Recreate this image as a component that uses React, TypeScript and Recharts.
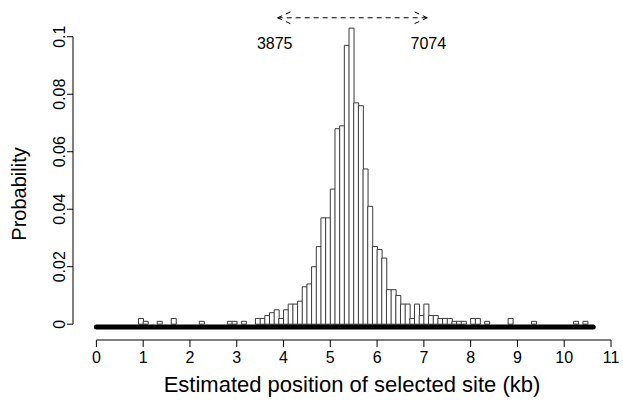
import { ComposedChart, Bar, XAxis, YAxis, ReferenceLine, ReferenceDot } from 'recharts';

// histogram of estimated selected-site position, 0.1 kb bins starting at 0
const BIN_WIDTH = 0.1;
const probabilities = [
  0, 0, 0, 0, 0, 0, 0, 0, 0, 0.002,
  0.001, 0, 0, 0.001, 0, 0, 0.002, 0, 0, 0,
  0, 0, 0.001, 0, 0, 0, 0, 0, 0.001, 0.001,
  0, 0.001, 0, 0, 0.002, 0.002, 0.003, 0.004, 0.005, 0.002,
  0.005, 0.007, 0.007, 0.008, 0.013, 0.014, 0.02, 0.027, 0.037, 0.037,
  0.047, 0.068, 0.069, 0.097, 0.103, 0.077, 0.076, 0.054, 0.041, 0.027,
  0.026, 0.023, 0.012, 0.012, 0.01, 0.007, 0.007, 0.002, 0.007, 0.003,
  0.007, 0.003, 0.003, 0.002, 0.002, 0.002, 0.001, 0.001, 0.001, 0,
  0.002, 0.002, 0, 0.001, 0, 0, 0, 0, 0.002, 0,
  0, 0, 0, 0.001, 0, 0, 0, 0, 0, 0,
  0, 0, 0.001, 0, 0.001, 0,
];

const xTicks = [0, 1, 2, 3, 4, 5, 6, 7, 8, 9, 10, 11];
const yTicks = [0, 0.02, 0.04, 0.06, 0.08, 0.1];
const interval = [3875, 7074]; // bp
const regionLength = 10.62; // kb

const FONT = '"Liberation Sans", Arial, Helvetica, sans-serif';
const Y_ARROW = 0.1066;
const Y_RUG = -0.00094;
const Y_XAXIS = -0.0055;
const HEAD_DX = 0.32;
const HEAD_DY = 0.0024;

const data = probabilities.map((p, i) => ({ x: (i + 0.5) * BIN_WIDTH, p }));

const YTick = ({ x, y, payload }: any) => (
  <text
    x={x}
    y={y}
    transform={`rotate(-90 ${x} ${y})`}
    textAnchor="middle"
    fontSize={16}
    fontFamily={FONT}
    fill="#000"
  >
    {String(payload.value)}
  </text>
);

const XTick = ({ x, y, payload }: any) => (
  <text x={x} y={y + 14} textAnchor="middle" fontSize={16} fontFamily={FONT} fill="#000">
    {String(payload.value)}
  </text>
);

const XTitle = ({ viewBox }: any) => (
  <text
    x={viewBox.x + viewBox.width / 2 + 10}
    y={viewBox.y + 52}
    textAnchor="middle"
    fontSize={22}
    fontFamily={FONT}
    fill="#000"
  >
    Estimated position of selected site (kb)
  </text>
);

const YTitle = ({ viewBox }: any) => {
  const cx = 26;
  const cy = viewBox.y + 186;
  return (
    <text
      x={cx}
      y={cy}
      transform={`rotate(-90 ${cx} ${cy})`}
      textAnchor="middle"
      fontSize={20}
      fontFamily={FONT}
      fill="#000"
    >
      Probability
    </text>
  );
};

const bpLabel = (text: string, dx: number) => ({ viewBox }: any) => (
  <text
    x={viewBox.x + dx}
    y={viewBox.y + 31}
    textAnchor="middle"
    fontSize={16}
    fontFamily={FONT}
    fill="#000"
  >
    {text}
  </text>
);

export default function App() {
  const [from, to] = interval.map((v) => v / 1000);
  return (
    <div style={{ position: 'absolute', left: 0, top: 0, background: '#fff' }}>
      <ComposedChart
        width={623}
        height={401}
        data={data}
        margin={{ top: 8, right: 12, left: 0, bottom: 0 }}
        barCategoryGap={0}
        barGap={0}
      >
        <XAxis
          type="number"
          dataKey="x"
          domain={[-0.5, 11]}
          ticks={xTicks}
          allowDataOverflow
          axisLine={false}
          tickLine={{ stroke: '#000' }}
          tickSize={7}
          height={61}
          tick={<XTick />}
          label={<XTitle />}
        />
        <YAxis
          type="number"
          domain={[Y_XAXIS, 0.11]}
          ticks={yTicks}
          allowDataOverflow
          axisLine={false}
          tickLine={{ stroke: '#000' }}
          tickSize={6}
          width={73}
          tick={<YTick />}
          label={<YTitle />}
        />
        <Bar
          dataKey="p"
          fill="#fff"
          stroke="#3a3a3a"
          strokeWidth={1}
          isAnimationActive={false}
        />
        <ReferenceLine
          segment={[{ x: 0, y: Y_XAXIS }, { x: 11, y: Y_XAXIS }]}
          stroke="#000"
          strokeWidth={1}
        />
        <ReferenceLine
          segment={[{ x: -0.5, y: 0 }, { x: -0.5, y: 0.1 }]}
          stroke="#000"
          strokeWidth={1}
        />
        <ReferenceLine
          segment={[{ x: 0, y: Y_RUG }, { x: regionLength, y: Y_RUG }]}
          stroke="#000"
          strokeWidth={5}
          strokeLinecap="round"
        />
        <ReferenceLine
          segment={[{ x: from, y: Y_ARROW }, { x: to, y: Y_ARROW }]}
          stroke="#000"
          strokeDasharray="5 4"
        />
        <ReferenceLine
          segment={[{ x: from, y: Y_ARROW }, { x: from + HEAD_DX, y: Y_ARROW + HEAD_DY }]}
          stroke="#000"
          strokeDasharray="5 4"
        />
        <ReferenceLine
          segment={[{ x: from, y: Y_ARROW }, { x: from + HEAD_DX, y: Y_ARROW - HEAD_DY }]}
          stroke="#000"
          strokeDasharray="5 4"
        />
        <ReferenceLine
          segment={[{ x: to, y: Y_ARROW }, { x: to - HEAD_DX, y: Y_ARROW + HEAD_DY }]}
          stroke="#000"
          strokeDasharray="5 4"
        />
        <ReferenceLine
          segment={[{ x: to, y: Y_ARROW }, { x: to - HEAD_DX, y: Y_ARROW - HEAD_DY }]}
          stroke="#000"
          strokeDasharray="5 4"
        />
        <ReferenceDot x={from} y={Y_ARROW} r={0} stroke="none" label={bpLabel(String(interval[0]), -3)} />
        <ReferenceDot x={to} y={Y_ARROW} r={0} stroke="none" label={bpLabel(String(interval[1]), 1)} />
      </ComposedChart>
    </div>
  );
}
